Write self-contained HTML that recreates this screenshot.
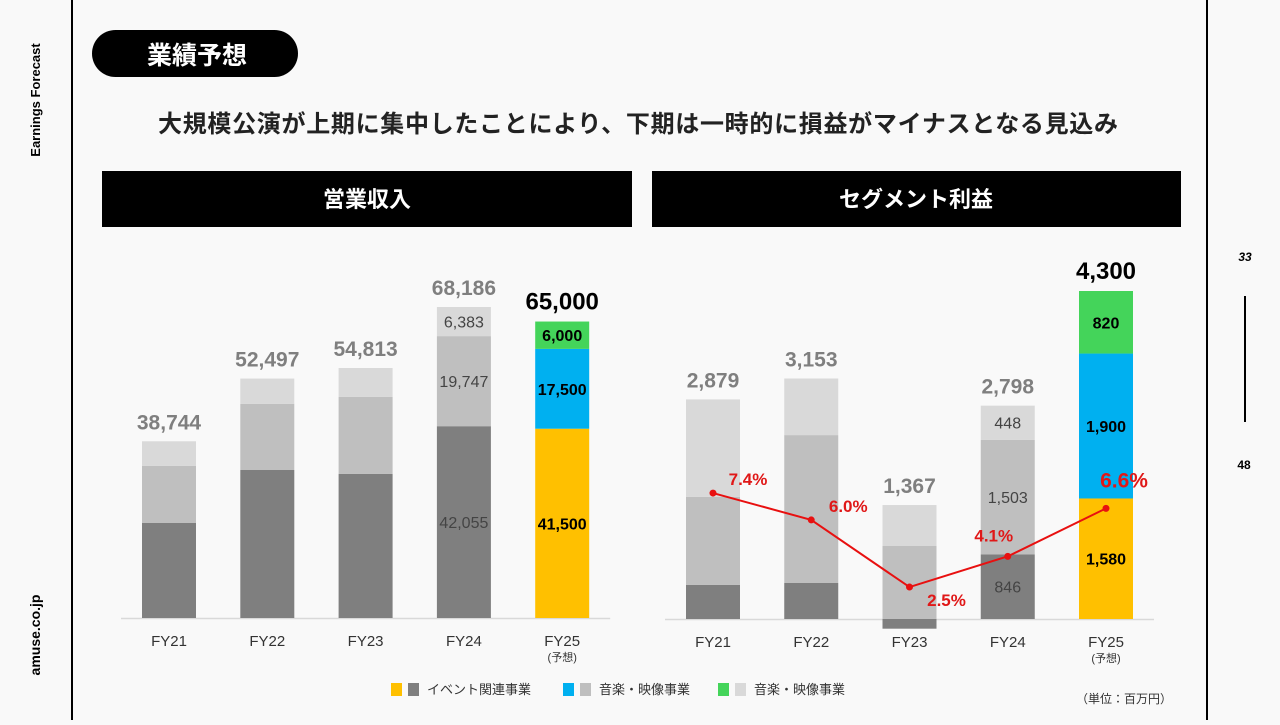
<!DOCTYPE html>
<html><head><meta charset="utf-8">
<style>
html,body{margin:0;padding:0;background:#f9f9f9;}
body{width:1280px;height:720px;position:relative;overflow:hidden;font-family:"Liberation Sans","Noto Sans CJK JP",sans-serif;}
svg text{font-family:"Liberation Sans","Noto Sans CJK JP",sans-serif;}
</style></head><body>
<svg id="s" width="1280" height="720" viewBox="0 0 1280 720" xmlns="http://www.w3.org/2000/svg">
 <rect x="0" y="0" width="1280" height="720" fill="#f9f9f9"/>
 <line x1="72" y1="0" x2="72" y2="720" stroke="#000" stroke-width="2"/>
 <line x1="1207" y1="0" x2="1207" y2="720" stroke="#000" stroke-width="2"/>
 <text x="40" y="100" transform="rotate(-90 40 100)" text-anchor="middle" font-size="13" font-weight="bold" fill="#000">Earnings Forecast</text>
 <text x="40" y="635" transform="rotate(-90 40 635)" text-anchor="middle" font-size="14" font-weight="bold" fill="#000">amuse.co.jp</text>
 <text x="1245" y="261" text-anchor="middle" font-size="12" font-weight="bold" font-style="italic">33</text>
 <line x1="1245" y1="296" x2="1245" y2="422" stroke="#000" stroke-width="2"/>
 <text x="1244" y="469" text-anchor="middle" font-size="12" font-weight="bold">48</text>
 <rect x="92" y="30" width="206" height="47" rx="23.5" fill="#000"/>
 <text x="197" y="64" text-anchor="middle" font-size="25" font-weight="bold" fill="#fff">業績予想</text>
 <text x="158" y="132" textLength="960" lengthAdjust="spacing" font-size="24" font-weight="bold" fill="#222">大規模公演が上期に集中したことにより、下期は一時的に損益がマイナスとなる見込み</text>
 <rect x="102" y="171" width="530" height="56" fill="#000"/>
 <text x="367" y="207" text-anchor="middle" font-size="22" font-weight="bold" fill="#fff">営業収入</text>
 <rect x="652" y="171" width="529" height="56" fill="#000"/>
 <text x="916" y="207" text-anchor="middle" font-size="22" font-weight="bold" fill="#fff">セグメント利益</text>
 <g id="left"></g>
 <g id="right"></g>
 <g>
  <rect x="391" y="683" width="11" height="13" fill="#ffc000"/>
  <rect x="408" y="683" width="11" height="13" fill="#7f7f7f"/>
  <text x="427" y="694" font-size="13" fill="#333">イベント関連事業</text>
  <rect x="563" y="683" width="11" height="13" fill="#00b0f0"/>
  <rect x="580" y="683" width="11" height="13" fill="#bfbfbf"/>
  <text x="599" y="694" font-size="13" fill="#333">音楽・映像事業</text>
  <rect x="718" y="683" width="11" height="13" fill="#44d45a"/>
  <rect x="735" y="683" width="11" height="13" fill="#d9d9d9"/>
  <text x="754" y="694" font-size="13" fill="#333">音楽・映像事業</text>
 </g>
 <text x="1172" y="703" text-anchor="end" font-size="12" fill="#333">（単位：百万円）</text>
</svg>
<script>
const categories = ["FY21","FY22","FY23","FY24","FY25"];
const revEvent = [20830,32450,31580,42055,41500];
const revMusic = [12500,14480,16880,19747,17500];
const revOther = [5414,5567,6353,6383,6000];
const revTotals = ["38,744","52,497","54,813","68,186","65,000"];
const profEvent = [446,472,-127,846,1580];
const profMusic = [1154,1939,957,1503,1900];
const profOther = [1279,742,537,448,820];
const profTotals = ["2,879","3,153","1,367","2,798","4,300"];
const margins = [7.4,6.0,2.5,4.1,6.6];
const marginLabels = ["7.4%","6.0%","2.5%","4.1%","6.6%"];
const NS="http://www.w3.org/2000/svg";
function mk(p,tag,a){const e=document.createElementNS(NS,tag);for(const k in a)e.setAttribute(k,a[k]);p.appendChild(e);return e;}
const grey=["#7f7f7f","#bfbfbf","#d9d9d9"], col=["#ffc000","#00b0f0","#44d45a"];

function chart(g, x0, step, base, scale, series, totals, labelIdx, prefix){
  const xs=i=>x0+i*step;
  const ys=v=>base-v*scale;
  const ax=mk(g,'line',{x1:x0-48,x2:x0+4*step+48,y1:base+0.5,y2:base+0.5,stroke:'#d9d9d9','stroke-width':1.5});
  
  
  categories.forEach((c,i)=>{
    let pos=0,neg=0;
    const fc = i===4;
    series.forEach((arr,s)=>{
      const v=arr[i];let y0,y1;
      if(v>=0){y0=ys(pos+v);y1=ys(pos);pos+=v;}else{y0=ys(neg);y1=ys(neg+v);neg+=v;}
      const r=mk(g,'rect',{x:xs(i)-27,y:y0,width:54,height:y1-y0,fill:fc?col[s]:grey[s]});
      
      
      if(labelIdx.includes(i)){
        const t=mk(g,'text',{x:xs(i),y:(y0+y1)/2+6,'text-anchor':'middle','font-size':16,fill:fc?'#000':'#444','font-weight':fc?'bold':'normal'});
        t.textContent=v.toLocaleString('en-US');
        
        
      }
    });
    const tt=mk(g,'text',{x:xs(i),y:ys(pos)-12,'text-anchor':'middle','font-size':fc?24:21,'font-weight':'bold',fill:fc?'#000':'#7f7f7f'});
    tt.textContent=totals[i];
    
    
    const lb=mk(g,'text',{x:xs(i),y:base+28,'text-anchor':'middle','font-size':15,fill:'#333'});
    lb.textContent=c;
    
    
    if(fc){const f=mk(g,'text',{x:xs(i),y:base+43,'text-anchor':'middle','font-size':11,fill:'#333'});f.textContent='(予想)';
      
      }
  });
  return xs;
}
const L=document.getElementById('left'), R=document.getElementById('right');
chart(L,169,98.3,618,311/68186,[revEvent,revMusic,revOther],revTotals,[3,4],'revenue');
const rx=chart(R,713,98.25,619,328/4300,[profEvent,profMusic,profOther],profTotals,[3,4],'profit');
const my=v=>635-v*19.18;
const pts=margins.map((m,i)=>rx(i)+','+my(m)).join(' ');
const pl=mk(R,'polyline',{points:pts,fill:'none',stroke:'#e81010','stroke-width':2});


const off=[[35,-8],[37,-8],[37,19],[-14,-15],[18,-21]];
margins.forEach((m,i)=>{
  const c=mk(R,'circle',{cx:rx(i),cy:my(m),r:3.5,fill:'#e81010'});
  
  
  const t=mk(R,'text',{x:rx(i)+off[i][0],y:my(m)+off[i][1],'text-anchor':'middle','font-size':i===4?21:17,'font-weight':'bold',fill:'#e01818'});
  t.textContent=marginLabels[i];
  
  
});
</script>
</body></html>
